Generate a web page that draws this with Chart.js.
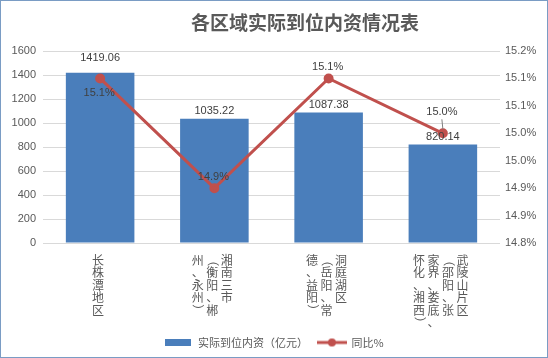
<!DOCTYPE html>
<html>
<head>
<meta charset="utf-8">
<script src="https://cdn.jsdelivr.net/npm/chart.js@4/dist/chart.umd.min.js"></script>
<style>
    html, body { margin: 0; padding: 0; background: #fff; }
    #chart { display: block; }
</style>
</head>
<body>
<canvas id="chart" width="548" height="358"></canvas>
<script>
// chart data
const chartTitle = '各区域实际到位内资情况表';
const categories = [
    '长株潭地区',
    '湘南三市\n（衡阳、郴\n州、永州）',
    '洞庭湖区\n（岳阳、常\n德、益阳）',
    '武陵山片区\n（邵阳、张\n家界、娄底、\n怀化、湘西）'
];
const investLabel = '实际到位内资（亿元）';
const investValues = [1419.06, 1035.22, 1087.38, 820.14];
const growthLabel = '同比%';
const growthValues = [15.1, 14.9, 15.1, 15.0];
const investAxis = [0, 1600, 200];       // min, max, step
const growthAxis = [14.8, 15.15, 0.05];  // min, max, step

const BAR_COLOR = '#4a7ebb';
const LINE_COLOR = '#c0504d';
const TEXT_COLOR = '#595959';
const LABEL_COLOR = '#404040';
const NUM_FONT = '"Liberation Sans", Arial, sans-serif';
const CJK_FONT = '"Noto Sans CJK SC", "Noto Sans", sans-serif';

function makeIcon(w, h, draw) {
    const c = document.createElement('canvas');
    c.width = w;
    c.height = h;
    draw(c.getContext('2d'), w, h);
    return c;
}

const legendIcons = [
    makeIcon(26, 7, (ctx, w, h) => {
        ctx.fillStyle = BAR_COLOR;
        ctx.fillRect(0, 0, w, h);
    }),
    makeIcon(30, 10, (ctx, w, h) => {
        ctx.strokeStyle = LINE_COLOR;
        ctx.lineWidth = 3;
        ctx.beginPath();
        ctx.moveTo(0, h / 2);
        ctx.lineTo(w, h / 2);
        ctx.stroke();
        ctx.fillStyle = LINE_COLOR;
        ctx.beginPath();
        ctx.arc(w / 2, h / 2, 4, 0, Math.PI * 2);
        ctx.fill();
    })
];

function pct(v) {
    return (Math.round(v * 10 + 1e-6) / 10).toFixed(1) + '%';
}

// title, value labels, vertical category labels, frame
const annotate = {
    id: 'annotate',
    afterDraw(chart) {
        const ctx = chart.ctx;
        const area = chart.chartArea;
        ctx.save();

        // title
        ctx.fillStyle = TEXT_COLOR;
        ctx.font = 'bold 19px ' + CJK_FONT;
        ctx.textAlign = 'center';
        ctx.textBaseline = 'middle';
        ctx.fillText(chartTitle, 305, 23);

        // bar values (bars are dataset 1)
        const barLift = [15, 8, 8, 8];
        ctx.font = '11px ' + NUM_FONT;
        ctx.fillStyle = LABEL_COLOR;
        chart.getDatasetMeta(1).data.forEach((bar, i) => {
            ctx.fillText(investValues[i].toFixed(2), bar.x, bar.y - barLift[i]);
        });

        // line values (line is dataset 0)
        const lineShift = [15, -11, -11, -21];
        chart.getDatasetMeta(0).data.forEach((pt, i) => {
            const y = pt.y + lineShift[i];
            ctx.fillStyle = LABEL_COLOR;
            ctx.fillText(pct(growthValues[i]), pt.x - 1, y);
            if (i === 3) {
                ctx.strokeStyle = '#7f7f7f';
                ctx.lineWidth = 1;
                ctx.beginPath();
                ctx.moveTo(pt.x - 1, y + 7);
                ctx.lineTo(pt.x, pt.y - 4);
                ctx.stroke();
            }
        });

        // vertical category labels, columns read right to left
        const xScale = chart.scales.x;
        const colGap = 14.5;
        const lineH = 12.5;
        const top = area.bottom + 11;
        ctx.font = '12px ' + CJK_FONT;
        ctx.fillStyle = TEXT_COLOR;
        categories.forEach((label, i) => {
            const cx = xScale.getPixelForValue(i) - 2;
            const cols = label.split('\n');
            cols.forEach((col, j) => {
                const x = cx + ((cols.length - 1) / 2 - j) * colGap;
                Array.from(col).forEach((ch, k) => {
                    const y = top + k * lineH + lineH / 2;
                    if (ch === '（' || ch === '）') {
                        ctx.save();
                        ctx.translate(x, y);
                        ctx.rotate(Math.PI / 2);
                        ctx.fillText(ch, 0, 0);
                        ctx.restore();
                    } else {
                        ctx.fillText(ch, x, y);
                    }
                });
            });
        });

        // outer frame
        ctx.strokeStyle = '#7a9cc4';
        ctx.lineWidth = 1;
        ctx.strokeRect(0.5, 0.5, chart.width - 1, chart.height - 1);
        ctx.restore();
    }
};

new Chart(document.getElementById('chart').getContext('2d'), {
    data: {
        labels: categories,
        datasets: [
            {
                type: 'line',
                label: growthLabel,
                data: growthValues,
                yAxisID: 'y1',
                order: 1,
                borderColor: LINE_COLOR,
                borderWidth: 3,
                pointRadius: 3.5,
                pointBackgroundColor: LINE_COLOR,
                pointBorderColor: LINE_COLOR,
                tension: 0
            },
            {
                type: 'bar',
                label: investLabel,
                data: investValues,
                yAxisID: 'y',
                order: 2,
                backgroundColor: BAR_COLOR,
                barPercentage: 0.6,
                categoryPercentage: 1
            }
        ]
    },
    options: {
        responsive: false,
        animation: false,
        layout: {
            padding: { top: 51, bottom: 0, left: 0, right: 0 }
        },
        scales: {
            x: {
                ticks: { display: false },
                grid: { display: false },
                border: { display: false },
                afterFit: scale => { scale.height = 84; }
            },
            y: {
                position: 'left',
                min: investAxis[0],
                max: investAxis[1],
                ticks: {
                    stepSize: investAxis[2],
                    color: TEXT_COLOR,
                    padding: 7,
                    font: { family: NUM_FONT, size: 11 },
                    callback: v => String(v)
                },
                grid: { color: '#d9d9d9', drawTicks: false },
                border: { display: false },
                afterFit: scale => { scale.width = 43; }
            },
            y1: {
                position: 'right',
                min: growthAxis[0],
                max: growthAxis[1],
                ticks: {
                    stepSize: growthAxis[2],
                    color: TEXT_COLOR,
                    padding: 5,
                    font: { family: NUM_FONT, size: 11 },
                    callback: v => pct(v)
                },
                grid: { display: false, drawTicks: false },
                border: { display: false },
                afterFit: scale => { scale.width = 48; }
            }
        },
        plugins: {
            legend: {
                position: 'bottom',
                reverse: true,
                labels: {
                    usePointStyle: true,
                    pointStyleWidth: 28,
                    boxHeight: 10,
                    padding: 10,
                    color: TEXT_COLOR,
                    font: { family: CJK_FONT, size: 11 },
                    generateLabels: chart => chart.data.datasets.map((ds, i) => ({
                        text: ds.label,
                        pointStyle: ds.type === 'bar' ? legendIcons[0] : legendIcons[1],
                        fillStyle: ds.type === 'bar' ? BAR_COLOR : LINE_COLOR,
                        strokeStyle: 'transparent',
                        lineWidth: 0,
                        hidden: false,
                        datasetIndex: i,
                        fontColor: TEXT_COLOR
                    }))
                }
            },
            tooltip: { enabled: false }
        }
    },
    plugins: [annotate]
});
</script>
</body>
</html>
